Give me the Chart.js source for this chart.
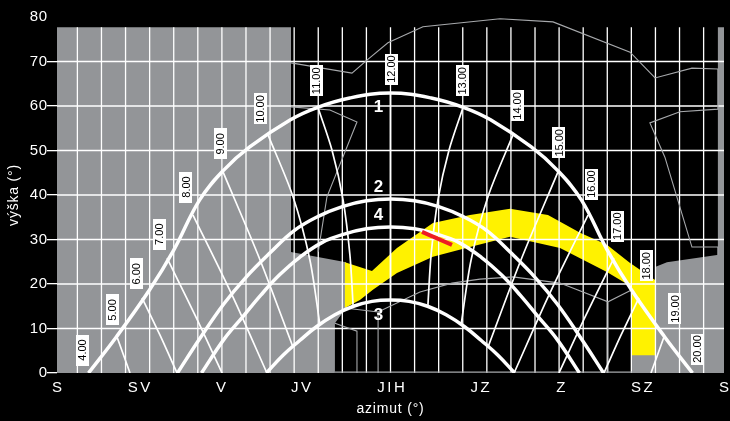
<!DOCTYPE html>
<html>
<head>
<meta charset="utf-8">
<title>Sluneční diagram</title>
<script src="https://cdn.jsdelivr.net/npm/chart.js@4.4.0/dist/chart.umd.min.js"></script>
<style>
  html, body { margin: 0; padding: 0; background: #000; }
  canvas { display: block; }
</style>
</head>
<body>
<canvas id="slunce" width="730" height="421"></canvas>
<script>
// osy: azimut (°) a výška slunce (°)
const azTicks = [0, 44.3, 88.5, 131.7, 180.3, 228.3, 272, 315.7, 360];
const azLabels = ['S', 'SV', 'V', 'JV', 'JIH', 'JZ', 'Z', 'SZ', 'S'];
const altMax = 80;
const altStep = 10;
const gridTop = 77.7;   // horní okraj rastru

// sluneční dráhy 1, 2, 4, 3
const path1Az  = [17, 32, 50, 63, 77, 90, 104, 126, 140, 158, 180, 202, 220, 234, 256, 270, 283, 297, 310, 328, 343];
const path1Alt = [0, 8.1, 18.7, 27.6, 38.9, 45.6, 50.8, 56.9, 59.6, 61.8, 62.9, 61.8, 59.6, 56.9, 50.8, 45.6, 38.9, 27.6, 18.7, 8.1, 0];
const path2Az  = [65, 77, 90, 102, 115, 128, 141, 154, 167, 180, 193, 206, 219, 232, 245, 258, 270, 283, 295];
const path2Alt = [0, 7.7, 15.5, 21.5, 27, 32, 35.2, 37.4, 38.7, 39.1, 38.7, 37.4, 35.2, 32, 27, 21.5, 15.5, 7.7, 0];
const path4Az  = [78, 90, 100, 110, 120, 131, 143, 155, 167, 180, 193, 205, 217, 229, 240, 250, 260, 270, 282];
const path4Alt = [0, 7.5, 12.5, 17.5, 22, 26, 29.3, 31.2, 32.4, 32.8, 32.4, 31.2, 29.3, 26, 22, 17.5, 12.5, 7.5, 0];
const path3Az  = [113, 122, 131, 140, 150, 160, 170, 180, 190, 200, 210, 220, 229, 238, 247];
const path3Alt = [0, 4.0, 7.3, 10.4, 13.1, 15.0, 16.1, 16.4, 16.1, 15.0, 13.1, 10.4, 7.3, 4.0, 0];

// hodiny na dráze 1
const hourNames = ['4.00', '5.00', '6.00', '7.00', '8.00', '9.00', '10.00', '11.00', '12.00',
                   '13.00', '14.00', '15.00', '16.00', '17.00', '18.00', '19.00', '20.00'];
const hourAz  = [16.7, 32.4, 45.9, 59.4, 73.4, 89.6, 113.9, 140.9, 180, 219.1, 246.1, 270.4, 286.6, 300.6, 314.1, 327.6, 343.3];
const hourAlt = [0, 8.1, 16.9, 25.8, 35.5, 45.2, 53.5, 59.6, 62.9, 59.6, 53.5, 45.2, 35.5, 25.8, 16.9, 8.1, 0];

// hodinové čáry (azimut, výška)
const hourLines = [
  [[32.4, 8.1], [39.4, 0]],
  [[45.9, 16.9], [55.6, 8.5], [64.8, 0]],
  [[59.4, 25.8], [74.5, 13.0], [89.1, 0]],
  [[73.4, 35.5], [94.5, 17.5], [113.3, 0]],
  [[89.6, 45.2], [109.6, 25.4], [127.4, 5.8]],
  [[113.9, 53.5], [127.4, 39.6], [136.5, 25.4], [141.9, 10.8]],
  [[140.9, 59.6], [148.4, 50.1], [154.4, 38.9], [158.1, 26.5], [159.8, 15.3]],
  [[180, 62.9], [180, 16.4]],
  [[219.1, 59.6], [211.6, 50.1], [205.6, 38.9], [201.9, 26.5], [200.2, 15.3]],
  [[246.1, 53.5], [232.6, 39.6], [223.5, 25.4], [218.1, 10.8]],
  [[270.4, 45.2], [250.4, 25.4], [232.6, 5.8]],
  [[286.6, 35.5], [265.5, 17.5], [246.7, 0]],
  [[300.6, 25.8], [285.5, 13.0], [270.9, 0]],
  [[314.1, 16.9], [304.4, 8.5], [295.2, 0]],
  [[327.6, 8.1], [320.6, 0]]
];

// zastínění okolní zástavbou
const shadeLeft = [[0, 0], [0, 77.7], [126.3, 77.7], [126.3, 27.2], [156, 24.9], [156, 14.6], [150, 11.2], [150, 0]];
const shadeRight = [[310.3, 0], [310.3, 5], [322.8, 5], [322.8, 23.8], [329.2, 24.9], [356.2, 26.5], [356.7, 26.5],
                    [356.7, 77.7], [360, 77.7], [360, 0]];

// obrysy budov
const outlines = [
  [[126.3, 69.7], [159.2, 67.4], [167.3, 70.3], [178.6, 74.2], [197.5, 77.8], [239.1, 79.6], [267.7, 78.9],
   [309.3, 72.1], [322.8, 66.3], [342.7, 68.5], [356.7, 68.3], [356.7, 59.3], [336.2, 58.7], [320, 56.2],
   [328.1, 48.5], [342.7, 28.3], [356.7, 28.3], [356.7, 26.5]],
  [[126.3, 59.8], [147.3, 59.1], [161.9, 56.4], [145.7, 39.6], [141, 27.2]],
  [[155.4, 14.6], [173.3, 13.7], [195.9, 18.2], [213.2, 20.2], [228.3, 21.1], [246.1, 21.6], [271.5, 20.2],
   [297.4, 16.0], [310.3, 18.7]],
  [[173.3, 13.7], [173.3, 0]],
  [[297.4, 16.0], [297.4, 0]],
  [[150, 11.2], [161.9, 9.4], [161.9, 0]],
  [[150, 0.2], [310.3, 0.2]]
];

// osluněná část okna
const sunBand = [[155.4, 24.9], [170, 22.9], [183.5, 28.1], [202.9, 33.7], [222.9, 35.5], [244.5, 36.9],
                 [265, 35.5], [282.3, 31.5], [296.8, 28.8], [309.3, 24.7], [322.8, 20.9], [322.8, 4.0],
                 [310.3, 4.0], [310.3, 19.3], [296.8, 22.7], [271.5, 28.1], [244.5, 30.6], [222.9, 28.3],
                 [202.9, 26.1], [183.5, 22.5], [170.5, 18.7], [163.5, 16.4], [155.4, 14.6]];
const redMark = [[197, 31.7], [213.2, 28.8]];

const FONT = '"Liberation Sans", Arial, Helvetica, sans-serif';

// posun štítků hodin od bodu na dráze (px)
const tagShift = [[-5, -23], [-5, -27], [-6, -24], [-8, -24], [-7, -28], [-3, -28], [-8, -26], [-2, -27], [0.5, -24],
                  [0, -27], [5, -29], [1, -29], [3, -31], [4, -32], [8, -32], [11, -28], [4, -24]];

const toPts = (az, alt) => az.map((a, i) => ({ x: a, y: alt[i] }));
const pairs = list => list.map(([x, y]) => ({ x, y }));
// více lomených čar v jedné sadě, oddělených mezerou
const joined = lines => lines.flatMap(l => [...pairs(l), { x: l[l.length - 1][0], y: null }]);

const gridV = [];
for (let a = 11; a <= 349; a += 13) gridV.push([[a, 0], [a, gridTop]]);
const gridH = [];
for (let v = altStep; v < altMax; v += altStep) gridH.push([[0, v], [360, v]]);

const white = '#ffffff';
const datasets = [
  { data: pairs(shadeLeft), fill: 'shape', backgroundColor: '#939598', borderWidth: 0, borderColor: 'rgba(0,0,0,0)' },
  { data: pairs(shadeRight), fill: 'shape', backgroundColor: '#939598', borderWidth: 0, borderColor: 'rgba(0,0,0,0)' },
  { data: pairs(sunBand), fill: 'shape', backgroundColor: '#fff200', borderWidth: 0, borderColor: 'rgba(0,0,0,0)' },
  { data: joined(gridV), borderColor: white, borderWidth: 1.3 },
  { data: joined(gridH), borderColor: white, borderWidth: 1.3 },
  { data: joined(outlines), borderColor: '#a7a9ac', borderWidth: 1.1 },
  { data: joined(hourLines), borderColor: white, borderWidth: 1.7, tension: 0.3 },
  { data: toPts(path1Az, path1Alt), borderColor: white, borderWidth: 3.5, tension: 0.4 },
  { data: toPts(path2Az, path2Alt), borderColor: white, borderWidth: 3.5, tension: 0.4 },
  { data: toPts(path4Az, path4Alt), borderColor: white, borderWidth: 3.5, tension: 0.4 },
  { data: toPts(path3Az, path3Alt), borderColor: white, borderWidth: 3.5, tension: 0.4 },
  { data: pairs(redMark), borderColor: '#ed1c24', borderWidth: 4 }
];
// první sada se kreslí první
datasets.forEach((d, i) => {
  d.order = datasets.length - i;
  d.pointRadius = 0;
  if (!d.fill) d.fill = false;
});

// čísla drah u vrcholu: text, vrchol, posun v px
const pathTags = [
  { t: '1', top: Math.max(...path1Alt), dy: 14 },
  { t: '2', top: Math.max(...path2Alt), dy: -12 },
  { t: '4', top: Math.max(...path4Alt), dy: -12 },
  { t: '3', top: Math.max(...path3Alt), dy: 15 }
];

const spacing = {
  id: 'spacing',
  beforeDraw(chart) { chart.ctx.letterSpacing = '0.8px'; }
};

const tags = {
  id: 'tags',
  afterDraw(chart) {
    const { ctx, chartArea, scales: { x, y } } = chart;
    ctx.save();
    ctx.textAlign = 'center';
    ctx.textBaseline = 'middle';

    // popisky světových stran pod osou
    ctx.letterSpacing = '2.5px';
    ctx.font = '15px ' + FONT;
    ctx.fillStyle = '#fff';
    azTicks.forEach((v, i) => {
      ctx.fillText(azLabels[i], x.getPixelForValue(v) + 1.25, chartArea.bottom + 15);
    });

    ctx.letterSpacing = '0px';
    ctx.font = '11px ' + FONT;
    hourNames.forEach((t, i) => {
      const cx = x.getPixelForValue(hourAz[i]) + tagShift[i][0];
      const cy = y.getPixelForValue(hourAlt[i]) + tagShift[i][1];
      ctx.fillStyle = '#fff';
      ctx.fillRect(Math.round(cx - 6.5), Math.round(cy - 15.5), 13, 31);
      ctx.save();
      ctx.translate(cx, cy);
      ctx.rotate(-Math.PI / 2);
      ctx.fillStyle = '#000';
      ctx.fillText(t, 0, 0.5);
      ctx.restore();
    });

    ctx.font = 'bold 17px ' + FONT;
    ctx.fillStyle = '#fff';
    pathTags.forEach(p => {
      ctx.fillText(p.t, x.getPixelForValue(180) - 12, y.getPixelForValue(p.top) + p.dy);
    });
    ctx.restore();
  }
};

new Chart(document.getElementById('slunce'), {
  type: 'line',
  data: { datasets },
  options: {
    responsive: false,
    animation: false,
    events: [],
    layout: { padding: { top: 17, right: 6 } },
    plugins: { legend: { display: false }, tooltip: { enabled: false } },
    scales: {
      x: {
        type: 'linear', min: 0, max: 360,
        afterBuildTicks: ax => { ax.ticks = azTicks.map(v => ({ value: v })); },
        afterFit: ax => { ax.height = 48; },
        grid: { display: false },
        border: { display: false },
        ticks: { display: false },
        title: { display: true, text: 'azimut (°)', color: '#fff', font: { size: 14, family: FONT }, padding: { top: 0, bottom: 3 } }
      },
      y: {
        type: 'linear', min: 0, max: altMax,
        afterFit: ax => { ax.width = 57; },
        grid: {
          drawOnChartArea: false, drawTicks: true, tickLength: 10, lineWidth: 1.3,
          color: c => (c.tick && c.tick.value === altMax) ? 'rgba(0,0,0,0)' : '#fff'
        },
        border: { display: false },
        ticks: { stepSize: altStep, color: '#fff', font: { size: 15, family: FONT }, padding: -1 },
        title: { display: true, text: 'výška (°)', color: '#fff', font: { size: 14, family: FONT }, padding: { top: 6, bottom: 0 } }
      }
    }
  },
  plugins: [spacing, tags]
});
</script>
</body>
</html>
